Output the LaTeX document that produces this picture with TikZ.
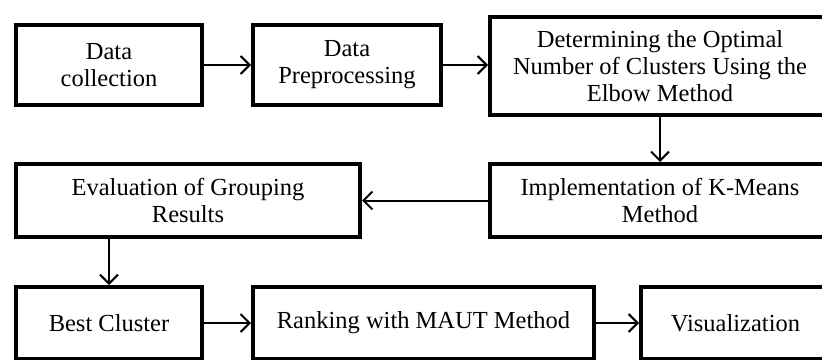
\documentclass[tikz,border=0pt]{standalone}
\usepackage{fontspec}
\setmainfont{Liberation Serif}
\usetikzlibrary{arrows.meta}
\begin{document}
\begin{tikzpicture}[x=1pt,y=-1pt,
  stepbox/.style={draw=black, line width=4pt, fill=white, align=center,
    inner sep=0pt, font=\fontsize{24.5}{27}\selectfont},
  arr/.style={draw=black, line width=2pt,
    -{Straight Barb[length=9pt,width=18pt,line width=2pt]}}]
  \useasboundingbox (0,0) rectangle (822,359);
  \clip (0,0) rectangle (822,359);
  \fill[white] (0,0) rectangle (822,359);

  % top row
  \node[stepbox, minimum width=186pt, minimum height=80pt] (b1) at (109,65)
    {Data\\collection};
  \node[stepbox, minimum width=188pt, minimum height=80pt] (b2) at (347,65)
    {Data\\Preprocessing};
  \node[stepbox, minimum width=340pt, minimum height=98pt] (b3) at (660,66)
    {Determining the Optimal\\Number of Clusters Using the\\Elbow Method};

  % middle row
  \node[stepbox, minimum width=340pt, minimum height=73pt] (b4) at (660,200.5)
    {Implementation of K-Means\\Method};
  \node[stepbox, minimum width=344pt, minimum height=73pt] (b5) at (188,200.5)
    {Evaluation of Grouping\\Results};

  % bottom row
  \node[stepbox, minimum width=186pt, minimum height=72pt] (b6) at (109,323)
    {Best Cluster};
  \node[stepbox, minimum width=341pt, minimum height=72pt] (b7) at (423.5,323)
    {Ranking with MAUT Method};
  \node[stepbox, minimum width=189pt, minimum height=72pt] (b8) at (735.5,323)
    {Visualization};

  % connectors
  \draw[arr] (b1) -- (b2);
  \draw[arr] (b2) -- (b3.west |- b2.east);
  \draw[arr] (b3) -- (b4);
  \draw[arr] (b4) -- (b5);
  \draw[arr] (b6.north |- b5.south) -- (b6.north);
  \draw[arr] (b6) -- (b7);
  \draw[arr] (b7) -- (b8);
\end{tikzpicture}
\end{document}
